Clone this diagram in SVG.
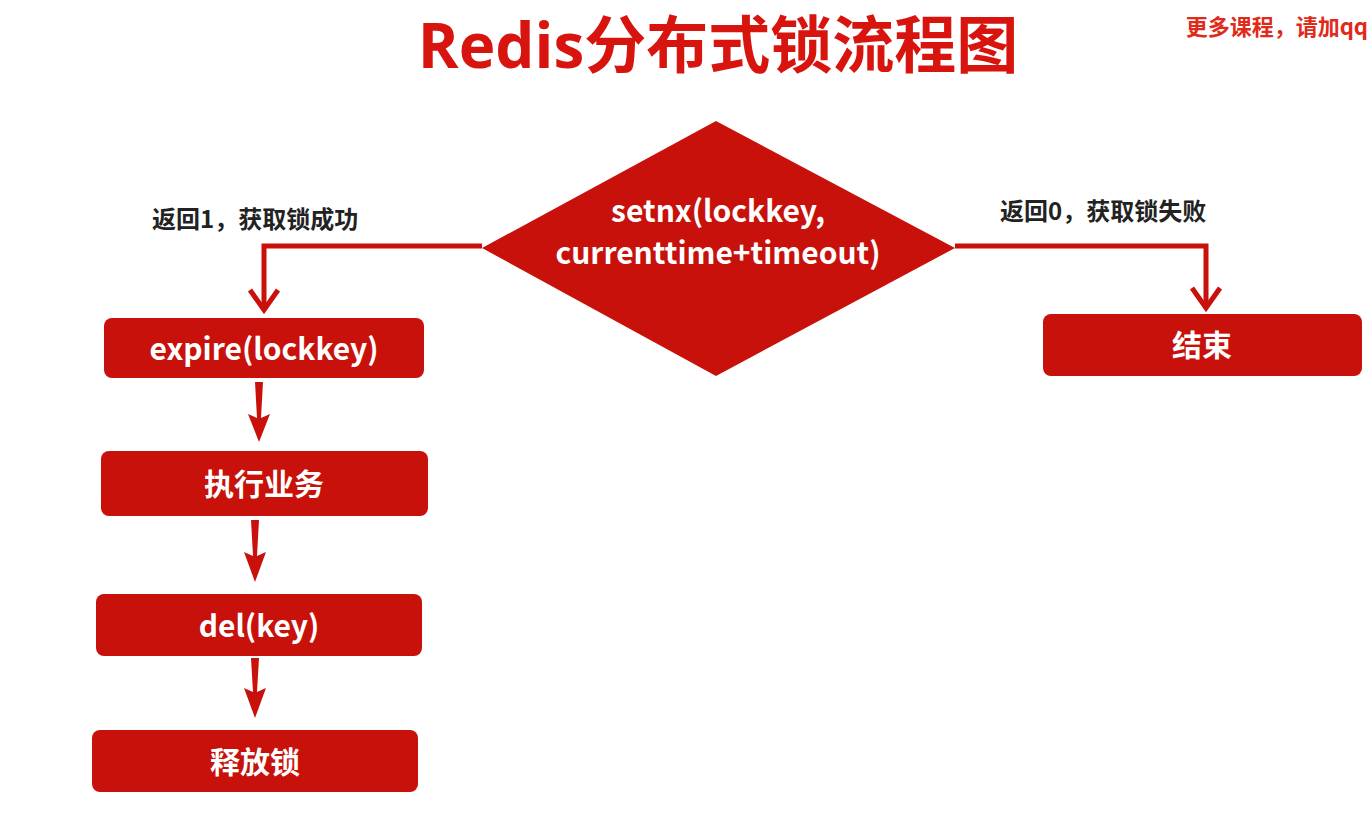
<svg xmlns="http://www.w3.org/2000/svg" width="1372" height="822" viewBox="0 0 1372 822">
<style>
.box{fill:#c8110b}
.t{font-family:"Noto Sans CJK SC","Open Sans",sans-serif;font-weight:bold;fill:#fff;font-size:30px;text-anchor:middle}
.l{font-family:"Noto Sans CJK SC",sans-serif;font-weight:bold;fill:#222;font-size:24px}
.c{fill:none;stroke:#c8110b;stroke-width:5}
.a{fill:#c8110b}
</style>
<rect width="1372" height="822" fill="#fff"/>
<text x="718" y="68" font-family="Open Sans,Noto Sans CJK SC,sans-serif" font-weight="bold" font-size="62" fill="#d8140e" text-anchor="middle">Redis分布式锁流程图</text>
<text x="1368" y="35" font-family="Noto Sans CJK SC,sans-serif" font-weight="bold" font-size="22" fill="#e02a1a" text-anchor="end">更多课程，请加qq</text>
<g id="connectors">
<polyline class="c" points="482,246 264,246 264,308"/>
<polyline class="c" points="250,290 264,310 278,290"/>
<polyline class="c" points="955,246 1206,246 1206,306"/>
<polyline class="c" points="1192,288 1206,308 1220,288"/>
<polygon class="a" points="255,382 263,382 261,418 270,414 259,442 248,414 257,418"/>
<polygon class="a" points="251,520 259,520 257,556 266,552 255,582 244,552 253,556"/>
<polygon class="a" points="251,658 259,658 257,692 266,688 255,718 244,688 253,692"/>
</g>
<g id="label-yes"><text class="l" x="152" y="228">返回1，获取锁成功</text></g>
<g id="label-no"><text class="l" x="1000" y="220">返回0，获取锁失败</text></g>
<g id="setnx"><polygon class="box" points="482,248 716,121 955,248 716,376"/>
<text class="t" x="718" y="222">setnx(lockkey,</text><text class="t" x="718" y="264">currenttime+timeout)</text></g>
<g id="expire"><rect class="box" x="104" y="318" width="320" height="60" rx="8"/><text class="t" x="264" y="360">expire(lockkey)</text></g>
<g id="exec"><rect class="box" x="101" y="451" width="327" height="65" rx="8"/><text class="t" x="264" y="495">执行业务</text></g>
<g id="del"><rect class="box" x="96" y="594" width="326" height="62" rx="8"/><text class="t" x="259" y="637">del(key)</text></g>
<g id="release"><rect class="box" x="92" y="730" width="326" height="62" rx="8"/><text class="t" x="255" y="773">释放锁</text></g>
<g id="end"><rect class="box" x="1043" y="314" width="319" height="62" rx="8"/><text class="t" x="1202" y="356">结束</text></g>
</svg>
